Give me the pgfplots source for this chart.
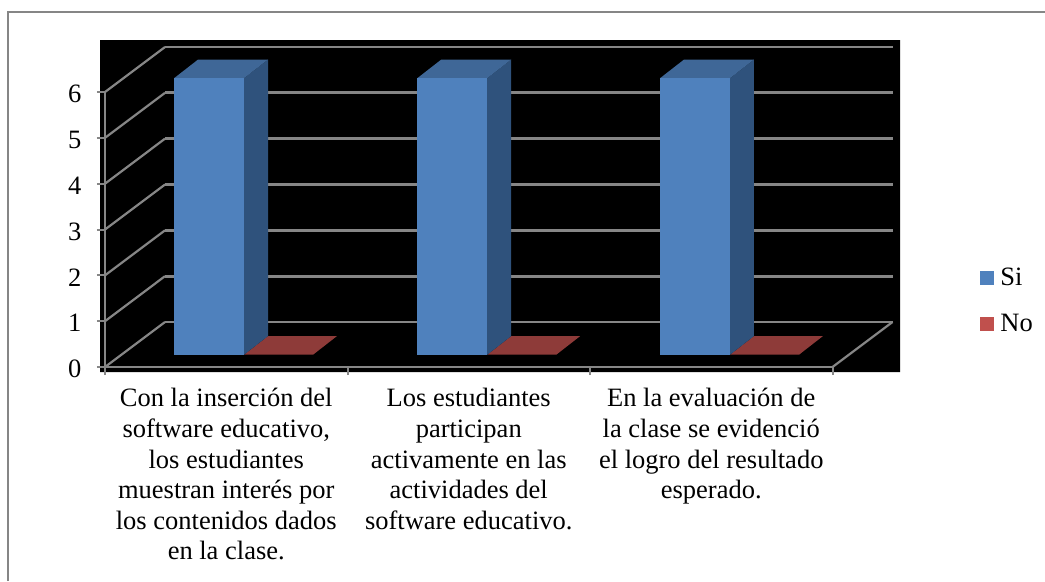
\documentclass[border=0pt]{standalone}
\usepackage{pgfplots}
\pgfplotsset{compat=1.18}
\usepackage{fontspec}
\setmainfont{Liberation Serif}
\definecolor{gridgrey}{HTML}{868686}
\definecolor{sifront}{HTML}{4F81BD}
\definecolor{sitop}{HTML}{3F6797}
\definecolor{siside}{HTML}{2F527C}
\definecolor{nofill}{HTML}{8E3B39}
\definecolor{nolegend}{HTML}{C0504D}
\newcommand{\lblfont}{\fontsize{26.5}{30.6}\selectfont}
\begin{document}
\begin{tikzpicture}
\begin{axis}[
  scale only axis, width=727.5pt, height=275pt,
  xmin=0, xmax=3, ymin=0, ymax=6,
  clip=false, axis on top,
  axis x line=bottom, axis y line=left,
  axis line style={-, gridgrey, line width=2.8pt},
  tick style={gridgrey, line width=2pt},
  major tick length=8pt, tick align=outside,
  ytick={0,1,2,3,4,5,6},
  xtick={0,1,2,3}, xticklabels={},
  /pgf/number format/assume math mode=true,
  tick label style={font=\lblfont, text=black},
  yticklabel style={xshift=-12pt, yshift=-2pt},
  extra x ticks={0.5,1.5,2.5},
  extra x tick style={major tick length=0pt},
  extra x tick labels={
    {Con la inserción del\\software educativo,\\los estudiantes\\muestran interés por\\los contenidos dados\\en la clase.},
    {Los estudiantes\\participan\\activamente en las\\actividades del\\software educativo.},
    {En la evaluación de\\la clase se evidenció\\el logro del resultado\\esperado.}},
  xticklabel style={align=center, yshift=-18pt},
  legend style={at={(axis cs:3.610,2.16)}, anchor=north west, draw=none, fill=none,
    inner sep=0pt, outer sep=0pt, font=\lblfont, row sep=27pt,
    nodes={inner sep=0pt, anchor=west}},
  legend image code/.code={\fill[#1] (0pt,-7pt) rectangle (14pt,7pt);\path (20pt,0pt);},
  legend cell align=left,
]
% black backdrop
\addplot[fill=black, draw=none, forget plot] coordinates {(-0.0206,-0.109) (3.2784,-0.109) (3.2784,7.135) (-0.0206,7.135)} \closedcycle;
% back wall grid lines
\addplot[gridgrey, line width=2.8pt, forget plot] coordinates {(0.2474,0.982) (3.2474,0.982)};
\addplot[gridgrey, line width=2.8pt, forget plot] coordinates {(0.2474,1.982) (3.2474,1.982)};
\addplot[gridgrey, line width=2.8pt, forget plot] coordinates {(0.2474,2.982) (3.2474,2.982)};
\addplot[gridgrey, line width=2.8pt, forget plot] coordinates {(0.2474,3.982) (3.2474,3.982)};
\addplot[gridgrey, line width=2.8pt, forget plot] coordinates {(0.2474,4.982) (3.2474,4.982)};
\addplot[gridgrey, line width=2.8pt, forget plot] coordinates {(0.2474,5.982) (3.2474,5.982)};
\addplot[gridgrey, line width=2.8pt, forget plot] coordinates {(0.2474,6.982) (3.2474,6.982)};
% side wall grid lines
\addplot[gridgrey, line width=2.2pt, forget plot] coordinates {(0,0) (0.2474,0.982)};
\addplot[gridgrey, line width=2.2pt, forget plot] coordinates {(0,1) (0.2474,1.982)};
\addplot[gridgrey, line width=2.2pt, forget plot] coordinates {(0,2) (0.2474,2.982)};
\addplot[gridgrey, line width=2.2pt, forget plot] coordinates {(0,3) (0.2474,3.982)};
\addplot[gridgrey, line width=2.2pt, forget plot] coordinates {(0,4) (0.2474,4.982)};
\addplot[gridgrey, line width=2.2pt, forget plot] coordinates {(0,5) (0.2474,5.982)};
\addplot[gridgrey, line width=2.2pt, forget plot] coordinates {(0,6) (0.2474,6.982)};
\addplot[gridgrey, line width=2.2pt, forget plot] coordinates {(3,0) (3.2474,0.982)};
% bars: "No" floors (value 0) and "Si" (value 6)
\addplot[fill=nofill, draw=none, forget plot] coordinates {(0.5732,0.268) (0.8577,0.268) (0.9567,0.676) (0.6722,0.676)} -- cycle;
\addplot[fill=siside, draw=none, forget plot] coordinates {(0.5732,0.268) (0.6722,0.676) (0.6722,6.708) (0.5732,6.30)} -- cycle;
\addplot[fill=sitop, draw=none, forget plot] coordinates {(0.2845,6.30) (0.5732,6.30) (0.6722,6.708) (0.3835,6.708)} -- cycle;
\addplot[fill=sifront, draw=none, forget plot] coordinates {(0.2845,0.268) (0.5732,0.268) (0.5732,6.30) (0.2845,6.30)} -- cycle;
\addplot[fill=nofill, draw=none, forget plot] coordinates {(1.5762,0.268) (1.8607,0.268) (1.9597,0.676) (1.6752,0.676)} -- cycle;
\addplot[fill=siside, draw=none, forget plot] coordinates {(1.5762,0.268) (1.6752,0.676) (1.6752,6.708) (1.5762,6.30)} -- cycle;
\addplot[fill=sitop, draw=none, forget plot] coordinates {(1.2875,6.30) (1.5762,6.30) (1.6752,6.708) (1.3865,6.708)} -- cycle;
\addplot[fill=sifront, draw=none, forget plot] coordinates {(1.2875,0.268) (1.5762,0.268) (1.5762,6.30) (1.2875,6.30)} -- cycle;
\addplot[fill=nofill, draw=none, forget plot] coordinates {(2.5772,0.268) (2.8617,0.268) (2.9607,0.676) (2.6762,0.676)} -- cycle;
\addplot[fill=siside, draw=none, forget plot] coordinates {(2.5772,0.268) (2.6762,0.676) (2.6762,6.708) (2.5772,6.30)} -- cycle;
\addplot[fill=sitop, draw=none, forget plot] coordinates {(2.2885,6.30) (2.5772,6.30) (2.6762,6.708) (2.3875,6.708)} -- cycle;
\addplot[fill=sifront, draw=none, forget plot] coordinates {(2.2885,0.268) (2.5772,0.268) (2.5772,6.30) (2.2885,6.30)} -- cycle;
% outer frame (left and top only)
\addplot[gridgrey, line width=2.8pt, forget plot] coordinates {(-0.4000,-4.6694) (-0.4000,7.746) (3.8763,7.746)};
\addlegendimage{fill=sifront, draw=none}
\addlegendentry{Si}
\addlegendimage{fill=nolegend, draw=none}
\addlegendentry{No}
\coordinate (pa) at (axis cs:-0.43299,-4.6694);
\coordinate (pb) at (axis cs:3.87629,8.0079);
\end{axis}
\pgfresetboundingbox
\useasboundingbox (pa) rectangle (pb);
\end{tikzpicture}
\end{document}
